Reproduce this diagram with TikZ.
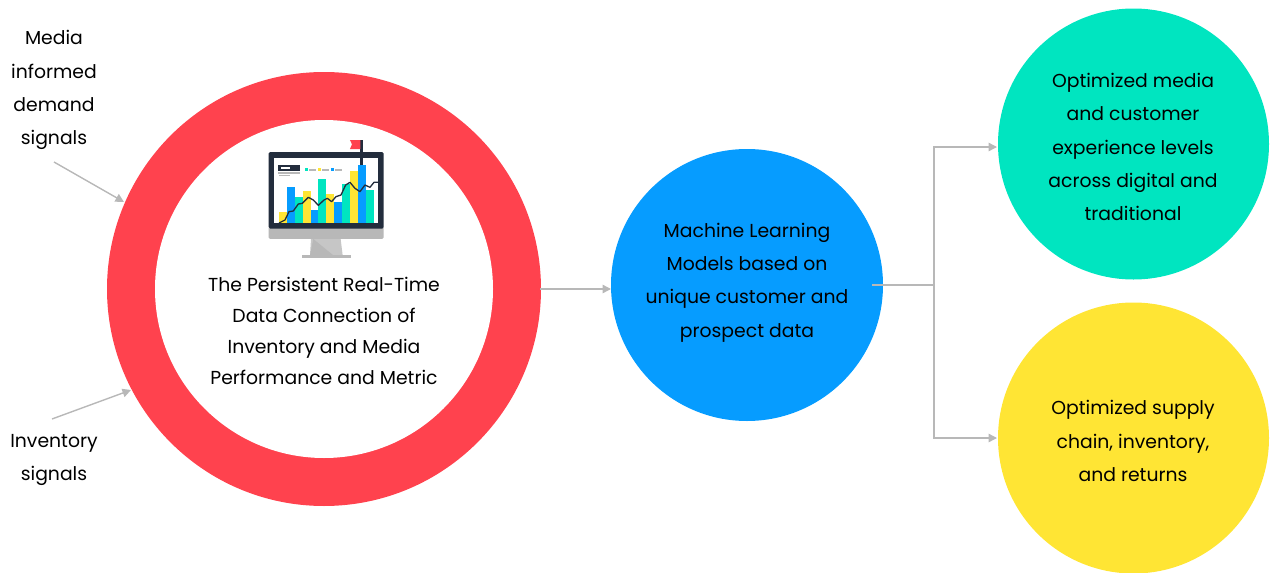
\documentclass[tikz,border=0pt]{standalone}
\usepackage{fontspec}
\setmainfont{Poppins}
\usetikzlibrary{arrows.meta}
\definecolor{ringred}{HTML}{FF424E}
\definecolor{skyblue}{HTML}{069CFF}
\definecolor{teal}{HTML}{00E5C0}
\definecolor{sun}{HTML}{FFE534}
\definecolor{conn}{HTML}{B8B8B8}
\definecolor{navy}{HTML}{232D3D}
\tikzset{
  x=1pt,y=-1pt,
  disc/.style={circle,inner sep=0pt,minimum size=#1},
  lbl/.style={align=center,font=\fontsize{18.8}{33.2}\selectfont,text=black,inner sep=0pt},
  lblring/.style={align=center,font=\fontsize{18.8}{31}\selectfont,text=black,inner sep=0pt},
  conline/.style={draw=conn,line width=1.4pt},
  conarrow/.style={conline,-{Triangle[length=8.5pt,width=8.5pt]}},
}
\begin{document}
\begin{tikzpicture}
\useasboundingbox (0,0) rectangle (1270,573);
% discs
\node[disc=434pt,fill=ringred] (ring) at (324,289) {};
\node[disc=338pt,fill=white] (hole) at (324,289) {};
\node[disc=272pt,fill=skyblue] (ml) at (747,285) {};
\node[disc=271pt,fill=teal] (media) at (1133.5,144) {};
\node[disc=271pt,fill=sun] (supply) at (1133.5,438) {};
% monitor
\begin{scope}[shift={(250,130)},x=0.3333pt,y=-0.3333pt]
\fill[conn!80!white] (183,327) -- (272,327) -- (278,376) -- (180,376) -- cycle;
\fill[conn] (190,327) -- (250,376) -- (180,376) -- cycle;
\fill[conn] (155,376) rectangle (302,383);
\fill[conn,rounded corners=1.5pt] (56,290) rectangle (401,327);
\fill[navy,rounded corners=1.5pt] (56,66) rectangle (401,296);
\fill[white] (72,84) rectangle (385,279);
\foreach \a/\b/\t/\c in {87/111/246/sun,111/135/171/skyblue,135/159/201/teal,159/183/183/sun,183/204/240/skyblue,204/228/147/teal,228/252/192/sun,252/276/216/skyblue,276/300/162/teal,300/324/123/sun,324/348/105/skyblue,348/372/180/teal}
  \fill[\c] (\a,\t) rectangle (\b,279);
\draw[navy,line width=1.3pt,line join=round] (87,279) -- (105,270) -- (117,245) -- (130,243) -- (145,222) -- (157,220) -- (175,202) -- (190,210) -- (205,226) -- (222,210) -- (232,205) -- (245,215) -- (258,200) -- (273,195) -- (287,165) -- (300,157) -- (315,175) -- (330,185) -- (345,165) -- (360,172) -- (372,157) -- (385,157);
\fill[navy] (84,105) rectangle (150,123);
\fill[white] (93,111) rectangle (120,117);
\fill[conn] (84,126) rectangle (150,132);
\fill[conn] (87,135) rectangle (120,139);
\fill[teal] (165,114) rectangle (174,123);
\fill[conn] (177,117) rectangle (198,123);
\fill[sun] (204,114) rectangle (213,123);
\fill[conn] (216,117) rectangle (237,123);
\fill[skyblue] (243,114) rectangle (252,123);
\fill[conn] (255,117) rectangle (276,123);
\fill[navy] (331,30) rectangle (339,105);
\fill[ringred] (300,30) -- (331,30) -- (331,57) -- (300,57) -- (306,43) -- cycle;
\end{scope}
% labels
\node[lblring] (ringtxt) at (324,331) {The Persistent Real-Time\\Data Connection of\\Inventory and Media\\Performance and Metric};
\node[lbl] (mltxt) at (747,282.5) {Machine Learning\\Models based on\\unique customer and\\prospect data};
\node[lbl] (mediatxt) at (1133,147) {Optimized media\\and customer\\experience levels\\across digital and\\traditional};
\node[lbl] (supplytxt) at (1133,441) {Optimized supply\\chain, inventory,\\and returns};
\node[lbl] (demandtxt) at (54,90) {Media\\informed\\demand\\signals};
\node[lbl] (invtxt) at (54,460) {Inventory\\signals};
% connectors
\coordinate (d0) at (54,162);
\coordinate (d1) at (124,202);
\coordinate (i0) at (52,419);
\coordinate (i1) at (131,390);
\coordinate (ringout) at (540,289);
\coordinate (mlin) at (611,289);
\coordinate (mlout) at (872,285);
\coordinate (fork) at (934,285);
\coordinate (mediain) at (997,147);
\coordinate (supplyin) at (997,438);
\draw[conarrow] (d0) -- (d1);
\draw[conarrow] (i0) -- (i1);
\draw[conarrow] (ringout) -- (mlin);
\draw[conline,line width=2pt] (mlout) -- (fork);
\draw[conarrow] (fork) |- (mediain);
\draw[conarrow] (fork) |- (supplyin);
\end{tikzpicture}
\end{document}
